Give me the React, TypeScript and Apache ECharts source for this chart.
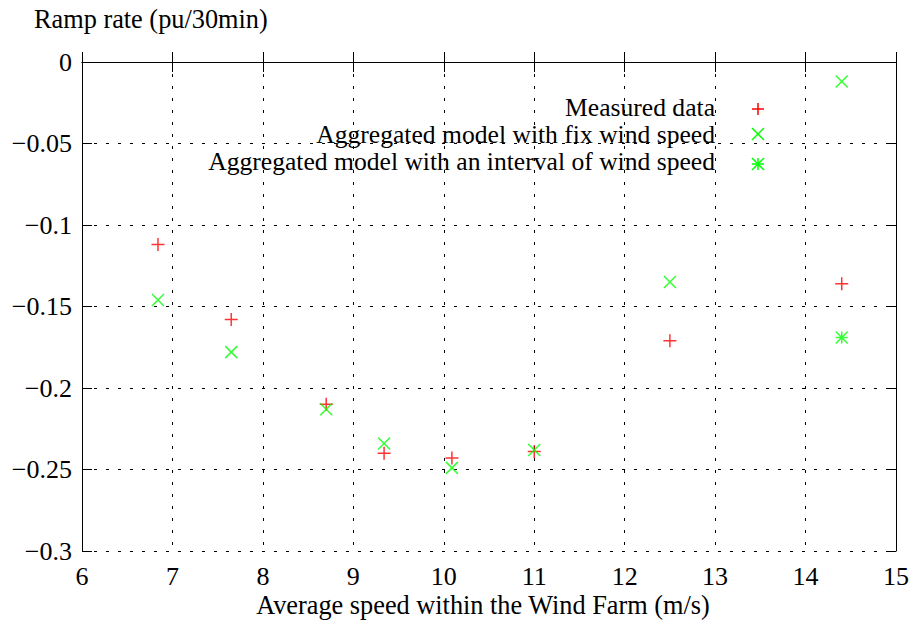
import React, { useEffect, useRef } from "react";
import * as echarts from "echarts";

const windSpeeds = [6.84, 7.65, 8.7, 9.34, 10.09, 11.0, 12.5, 14.4];
const measured = [-0.112, -0.158, -0.21, -0.24, -0.243, -0.239, -0.171, -0.136];
const fixModel = [-0.146, -0.178, -0.213, -0.234, -0.249, -0.238, -0.135, -0.012];
const intervalSpeeds = [14.4];
const intervalModel = [-0.169];

const seriesNames = [
  "Measured data",
  "Aggregated model with fix wind speed",
  "Aggregated model with an interval of wind speed",
];
const xTitle = "Average speed within the Wind Farm (m/s)";
const yTitle = "Ramp rate (pu/30min)";

const FONT = "Liberation Serif";
const RED = "#ff0000";
const GREEN = "#00ff00";

const PLUS = "path://M0,6 L12,6 M6,0 L6,12";
const CROSS = "path://M0,0 L12,12 M12,0 L0,12";
const STAR = "path://M0,0 L12,12 M12,0 L0,12 M6,0 L6,12 M0,6 L12,6";

const pairs = (xs: number[], ys: number[]) => xs.map((x, i) => [x, ys[i]]);

export default function App() {
  const ref = useRef<HTMLDivElement>(null);
  useEffect(() => {
    if (!ref.current) return;
    const chart = echarts.init(ref.current, undefined, { renderer: "svg" });
    const axisLine = { show: true, lineStyle: { color: "#000", width: 1 } };
    const tick = { show: true, inside: true, length: 10, lineStyle: { color: "#000", width: 1 } };
    const split = { show: true, lineStyle: { color: "#000", width: 1, type: [3, 9] as any } };
    const label = { fontSize: 26, fontFamily: FONT, color: "#000" };
    const fmtY = (v: number) => {
      const n = parseFloat(v.toFixed(2));
      return n < 0 ? "\u2212" + String(-n) : String(n);
    };
    const legendX = 715;
    const symX = 758;
    const textRows = [107, 134, 161];
    const symRows = [109, 134, 164];
    const half = 6;
    const lineEl = (x1: number, y1: number, x2: number, y2: number, c: string) => ({
      type: "line",
      shape: { x1, y1, x2, y2 },
      style: { stroke: c, lineWidth: 1.5 },
    });
    const graphic: any[] = [
      {
        type: "text",
        left: 34,
        top: 6,
        style: { text: yTitle, font: `26.3px ${FONT}`, fill: "#000" },
      },
      {
        type: "text",
        x: 483,
        y: 605,
        style: { text: xTitle, font: `26.3px ${FONT}`, fill: "#000", align: "center", verticalAlign: "middle" },
      },
    ];
    seriesNames.forEach((n, i) => {
      graphic.push({
        type: "text",
        x: legendX,
        y: textRows[i],
        style: {
          text: n,
          font: `25.6px ${FONT}`,
          lineHeight: 24,
          fill: "#000",
          align: "right",
          verticalAlign: "middle",
        },
      });
    });
    const r = symRows;
    graphic.push(lineEl(symX - half, r[0], symX + half, r[0], RED));
    graphic.push(lineEl(symX, r[0] - half, symX, r[0] + half, RED));
    graphic.push(lineEl(symX - half, r[1] - half, symX + half, r[1] + half, GREEN));
    graphic.push(lineEl(symX + half, r[1] - half, symX - half, r[1] + half, GREEN));
    graphic.push(lineEl(symX - half, r[2] - half, symX + half, r[2] + half, GREEN));
    graphic.push(lineEl(symX + half, r[2] - half, symX - half, r[2] + half, GREEN));
    graphic.push(lineEl(symX, r[2] - half, symX, r[2] + half, GREEN));
    graphic.push(lineEl(symX - half, r[2], symX + half, r[2], GREEN));

    chart.setOption({
      animation: false,
      backgroundColor: "#fff",
      textStyle: { fontFamily: FONT },
      grid: { left: 82, right: 17, top: 62, bottom: 71, containLabel: false },
      xAxis: [
        {
          type: "value",
          min: 6,
          max: 15,
          interval: 1,
          position: "bottom",
          axisLine,
          axisTick: tick,
          splitLine: split,
          axisLabel: { ...label, margin: 12 },
        },
        {
          type: "value",
          min: 6,
          max: 15,
          interval: 1,
          position: "top",
          axisLine,
          axisTick: tick,
          splitLine: { show: false },
          axisLabel: { show: false },
        },
      ],
      yAxis: [
        {
          type: "value",
          min: -0.3,
          max: 0,
          interval: 0.05,
          position: "left",
          axisLine,
          axisTick: tick,
          splitLine: split,
          axisLabel: { ...label, margin: 10, formatter: fmtY },
        },
        {
          type: "value",
          min: -0.3,
          max: 0,
          interval: 0.05,
          position: "right",
          axisLine,
          axisTick: tick,
          splitLine: { show: false },
          axisLabel: { show: false },
        },
      ],
      series: [
        {
          name: seriesNames[0],
          type: "scatter",
          data: pairs(windSpeeds, measured),
          symbol: PLUS,
          symbolSize: 13,
          itemStyle: { color: RED, borderColor: RED, borderWidth: 1.5 },
        },
        {
          name: seriesNames[1],
          type: "scatter",
          data: pairs(windSpeeds, fixModel),
          symbol: CROSS,
          symbolSize: 12,
          itemStyle: { color: GREEN, borderColor: GREEN, borderWidth: 1.5 },
        },
        {
          name: seriesNames[2],
          type: "scatter",
          data: pairs(intervalSpeeds, intervalModel),
          symbol: STAR,
          symbolSize: 12,
          itemStyle: { color: GREEN, borderColor: GREEN, borderWidth: 1.5 },
        },
      ],
      graphic,
    });
    return () => chart.dispose();
  }, []);
  return (
    <div
      ref={ref}
      style={{ position: "fixed", left: 0, top: 0, width: 913, height: 622, background: "#fff" }}
    />
  );
}
